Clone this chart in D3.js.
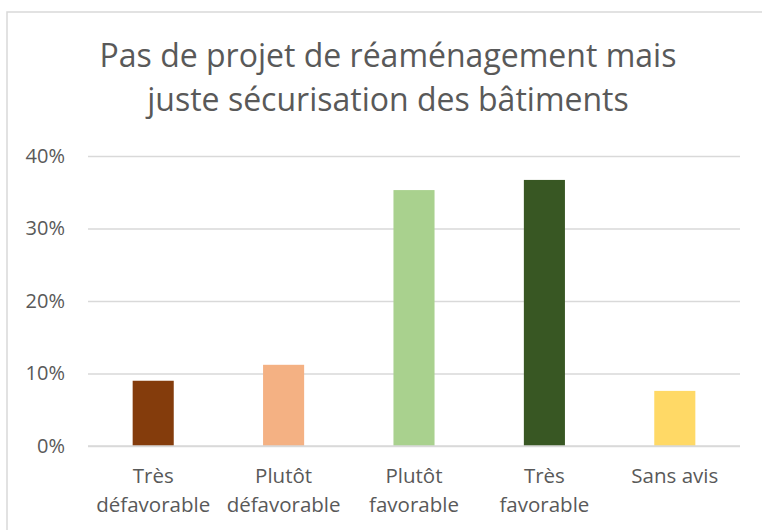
<!DOCTYPE html>
<html>
<head>
<meta charset="utf-8">
<script src="https://cdn.jsdelivr.net/npm/d3@7"></script>
<style>
  html, body { margin: 0; padding: 0; background: #fff; }
  svg { display: block; }
  text { font-family: "Open Sans", sans-serif; fill: #595959; }
</style>
</head>
<body>
<svg id="chart" width="762" height="530"></svg>
<script>
const titleLines = ["Pas de projet de réaménagement mais", "juste sécurisation des bâtiments"];
const categories = [["Très", "défavorable"], ["Plutôt", "défavorable"], ["Plutôt", "favorable"], ["Très", "favorable"], ["Sans avis"]];
const values = [0.090, 0.112, 0.353, 0.367, 0.076];
const colors = ["#843C0C", "#F4B183", "#A9D18E", "#385723", "#FFD966"];
const yTicks = [0, 0.1, 0.2, 0.3, 0.4];

const svg = d3.select("#chart");
const W = 762, H = 530;
const plot = { left: 88, right: 740, top: 156, bottom: 446 };

// outer chart border
svg.append("rect")
  .attr("x", 7).attr("y", 12)
  .attr("width", W + 10).attr("height", H + 10)
  .attr("fill", "none").attr("stroke", "#d9d9d9").attr("stroke-width", 1.5);

// title
svg.append("g").selectAll("text").data(titleLines).join("text")
  .attr("x", 388).attr("y", (d, i) => 67 + i * 43.5)
  .attr("text-anchor", "middle")
  .style("font-size", "32px")
  .text(d => d);

const x = d3.scaleBand()
  .domain(d3.range(categories.length))
  .range([plot.left, plot.right])
  .paddingInner(0.685).paddingOuter(0.3425);

const y = d3.scaleLinear().domain([0, 0.4]).range([plot.bottom, plot.top]);

// gridlines
const yAxis = d3.axisLeft(y).tickValues(yTicks).tickFormat(d3.format(".0%"))
  .tickSize(-(plot.right - plot.left)).tickPadding(23);
const gy = svg.append("g").attr("transform", `translate(${plot.left},0)`).call(yAxis);
gy.select(".domain").remove();
gy.selectAll(".tick line").attr("stroke", "#d9d9d9").attr("stroke-width", 1.5);
gy.selectAll(".tick text").style("font-size", "20px").attr("fill", "#595959")
  .style("font-family", "'Open Sans', sans-serif");

// bars
svg.append("g").selectAll("rect").data(values).join("rect")
  .attr("x", (d, i) => x(i))
  .attr("width", x.bandwidth())
  .attr("y", d => y(d))
  .attr("height", d => y(0) - y(d))
  .attr("fill", (d, i) => colors[i]);

// redraw baseline on top
svg.append("line")
  .attr("x1", plot.left).attr("x2", plot.right)
  .attr("y1", y(0)).attr("y2", y(0))
  .attr("stroke", "#d9d9d9").attr("stroke-width", 1.5);

// category labels
const gx = svg.append("g");
categories.forEach((lines, i) => {
  const t = gx.append("text")
    .attr("x", x(i) + x.bandwidth() / 2)
    .attr("y", 483)
    .attr("text-anchor", "middle")
    .style("font-size", "20.5px");
  lines.forEach((ln, j) => {
    t.append("tspan").attr("x", x(i) + x.bandwidth() / 2).attr("dy", j === 0 ? 0 : 29).text(ln);
  });
});
</script>
</body>
</html>
